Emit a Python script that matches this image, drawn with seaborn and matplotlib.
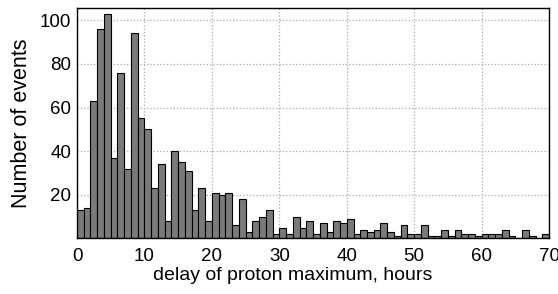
import pandas as pd
import matplotlib
matplotlib.use('Agg')
import matplotlib.pyplot as plt
import seaborn as sns

# hourly bins 0..69, counts
hours = list(range(70))
counts = [13, 14, 63, 96, 103, 37, 76, 32, 94, 55,
          50, 23, 34, 8, 40, 35, 31, 13, 23, 8,
          21, 20, 21, 6, 18, 3, 8, 10, 13, 2,
          5, 2, 10, 5, 8, 2, 7, 3, 8, 7,
          9, 2, 4, 3, 4, 7, 3, 1, 6, 2,
          2, 6, 1, 1, 4, 1, 4, 2, 2, 1,
          2, 2, 2, 4, 1, 0, 4, 1, 0, 2]
xticks = [0, 10, 20, 30, 40, 50, 60, 70]
yticks = [20, 40, 60, 80, 100]

df = pd.DataFrame({'hour': hours, 'n': counts})

sns.set_style('white')
plt.rcParams['font.family'] = ['Liberation Sans', 'DejaVu Sans']
plt.rcParams['text.color'] = 'black'
plt.rcParams['axes.labelcolor'] = 'black'
plt.rcParams['xtick.color'] = 'black'
plt.rcParams['ytick.color'] = 'black'

fig = plt.figure(figsize=(5.58, 2.94), dpi=100)
ax = fig.add_axes([0.138, 0.189, 0.846, 0.783])

sns.histplot(data=df, x='hour', weights='n', binwidth=1, binrange=(0, 70),
             color='#7a7a7a', edgecolor='black', linewidth=0.8, alpha=1, ax=ax)

ax.set_xlim(0, 70)
ax.set_ylim(0, 105.5)
ax.set_xticks(xticks)
ax.set_yticks(yticks)
ax.grid(True, linestyle=':', color='#aaaaaa', linewidth=0.9)
ax.set_axisbelow(True)
for s in ax.spines.values():
    s.set_color('black')
    s.set_linewidth(1.0)
ax.tick_params(length=0, labelsize=13.5)
ax.tick_params(axis='x', pad=7)
ax.tick_params(axis='y', pad=4)
ax.set_xlabel('delay of proton maximum, hours', fontsize=14)
ax.xaxis.set_label_coords(0.456, -0.125, transform=ax.transAxes)
ax.xaxis.label.set_va('top')
ax.set_ylabel('Number of events', fontsize=15.5, labelpad=6)

fig.savefig('out.png', dpi=100)
